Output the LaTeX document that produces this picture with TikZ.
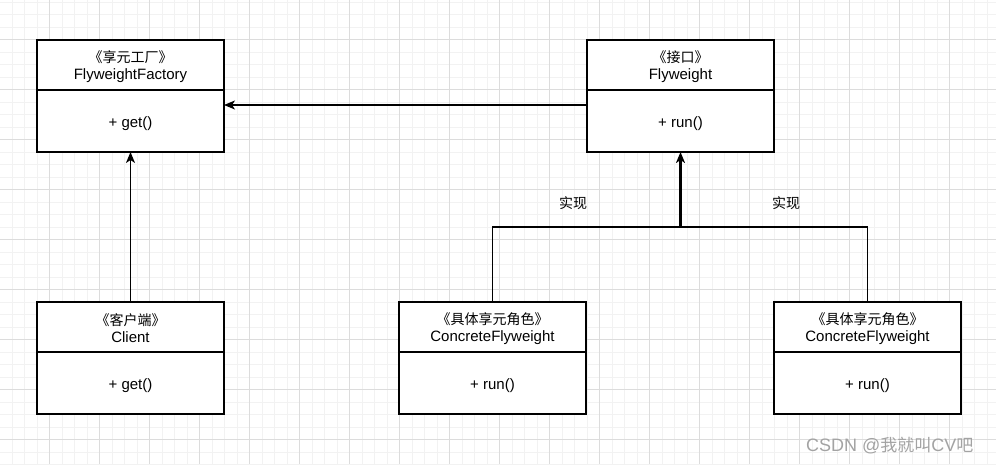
\documentclass[tikz,border=0pt]{standalone}
\usepackage{fontspec}
\setmainfont{Liberation Sans}
\newfontfamily\cjk{Noto Sans CJK SC}
\usetikzlibrary{arrows.meta}
\definecolor{gridminor}{HTML}{F2F2F2}
\definecolor{gridmajor}{HTML}{DCDCDC}
\definecolor{wmark}{HTML}{A3A3A3}
\newcommand{\zh}[1]{{\cjk\fontsize{14}{17}\selectfont #1}}
\newcommand{\dn}[2]{\raisebox{-#1}[\height][\depth]{#2}}
\tikzset{
  hdr/.style={draw=black, line width=1.3pt, fill=white, minimum width=187pt, minimum height=50pt,
    inner sep=0pt, outer sep=0pt, align=center, font=\fontsize{15}{17}\selectfont},
  bdy/.style={draw=black, line width=1.3pt, fill=white, minimum width=187pt, minimum height=62pt,
    inner sep=0pt, outer sep=0pt, align=center, font=\fontsize{15}{17}\selectfont},
  arr/.style={line width=1.3pt, -{Stealth[length=11pt,width=9pt,inset=3pt]}},
  conn/.style={line width=1.3pt},
  lbl/.style={inner sep=0pt}
}
\begin{document}
\begin{tikzpicture}[x=1pt,y=-1pt]
\useasboundingbox (0,0) rectangle (996,464);
\fill[white] (0,0) rectangle (996,464);
% grid
\foreach \i in {0,...,80} {
  \draw[gridminor, line width=0.8pt] ({12+12.5*\i},0) -- ({12+12.5*\i},464);
}
\foreach \i in {0,...,37} {
  \draw[gridminor, line width=0.8pt] (0,{2+12.5*\i}) -- (996,{2+12.5*\i});
}
\foreach \i in {0,...,19} {
  \draw[gridmajor, line width=0.9pt] ({49.5+50*\i},0) -- ({49.5+50*\i},464);
}
\foreach \i in {0,...,8} {
  \draw[gridmajor, line width=0.9pt] (0,{39.5+50*\i}) -- (996,{39.5+50*\i});
}
% classes
\node[hdr, anchor=north west] (fh) at (37,40) {\dn{1.5pt}{\zh{《享元工厂》}}\\\dn{1.5pt}{FlyweightFactory}};
\node[bdy, anchor=north] (fb) at (fh.south) {\dn{3pt}{+ get()}};
\node[hdr, anchor=north west] (wh) at (587,40) {\dn{1.5pt}{\zh{《接口》}}\\\dn{1.5pt}{Flyweight}};
\node[bdy, anchor=north] (wb) at (wh.south) {\dn{3pt}{+ run()}};
\node[hdr, anchor=north west] (ch) at (37,302) {\dn{1.5pt}{\zh{《客户端》}}\\\dn{1.5pt}{Client}};
\node[bdy, anchor=north] (cb) at (ch.south) {\dn{3pt}{+ get()}};
\node[hdr, anchor=north west] (c1h) at (399,302) {\dn{1.5pt}{\zh{《具体享元角色》}}\\\dn{1.5pt}{ConcreteFlyweight}};
\node[bdy, anchor=north] (c1b) at (c1h.south) {\dn{3pt}{+ run()}};
\node[hdr, anchor=north west] (c2h) at (774,302) {\dn{1.5pt}{\zh{《具体享元角色》}}\\\dn{1.5pt}{ConcreteFlyweight}};
\node[bdy, anchor=north] (c2b) at (c2h.south) {\dn{3pt}{+ run()}};
% connectors
\draw[arr] ([yshift=-15pt]wh.south west) -- ([yshift=-15pt]fh.south east);
\draw[arr] (ch.north) -- (fb.south);
\coordinate (j) at (wb.south |- 0,227);
\draw[conn] (c1h.north) |- (j) -| (c2h.north);
\draw[arr, line width=2.4pt] (j) -- (wb.south);
% labels
\node[lbl] (l1) at (573,203) {\zh{实现}};
\node[lbl] (l2) at (786,203) {\zh{实现}};
% watermark
\node[lbl, anchor=west, text=wmark] (wm) at (806,446) {\fontsize{18}{20}\selectfont CSDN @{\cjk\fontsize{17}{20}\selectfont 我就叫}CV{\cjk\fontsize{17}{20}\selectfont 吧}};
\end{tikzpicture}
\end{document}
